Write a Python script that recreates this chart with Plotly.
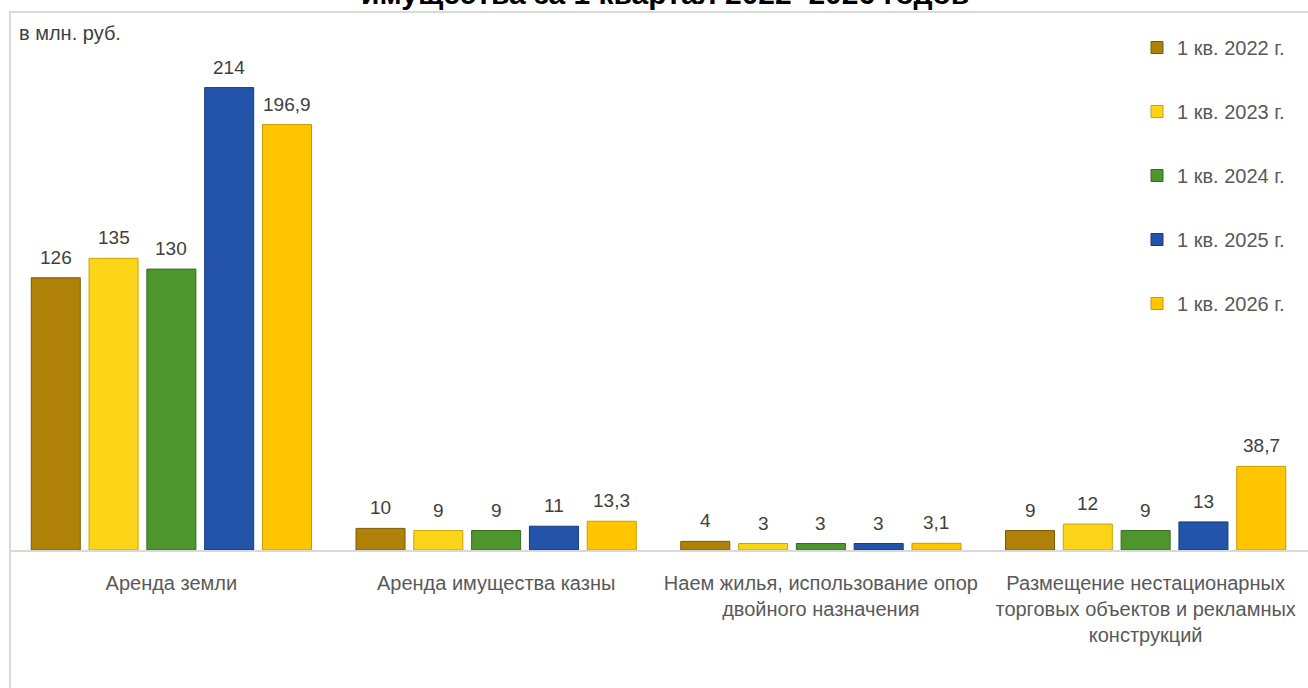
import plotly.graph_objects as go

categories = [
    "Аренда земли",
    "Аренда имущества казны",
    "Наем жилья, использование опор<br>двойного назначения",
    "Размещение нестационарных<br>торговых объектов и рекламных<br>конструкций",
]
series_names = ["1 кв. 2022 г.", "1 кв. 2023 г.", "1 кв. 2024 г.", "1 кв. 2025 г.", "1 кв. 2026 г."]
v2022 = [126, 10, 4, 9]
v2023 = [135, 9, 3, 12]
v2024 = [130, 9, 3, 9]
v2025 = [214, 11, 3, 13]
v2026 = [196.9, 13.3, 3.1, 38.7]
series_values = [v2022, v2023, v2024, v2025, v2026]

colors = ["#b08108", "#fcd418", "#4f952e", "#2453aa", "#ffc600"]
edge = ["#7a5a05", "#c9a40c", "#366b1f", "#173b7e", "#c99a00"]

FONT = "Liberation Sans, Arial, sans-serif"
W, H = 1308, 688
ML, MR, MT, MB = 9, 0, 12, 138
BARGAP, GROUPGAP = 0.11, 0.152


def fmt(v):
    s = ("%g" % v)
    return s.replace(".", ",")


fig = go.Figure()
xs = list(range(len(categories)))
for j, (name, vals) in enumerate(zip(series_names, series_values)):
    fig.add_trace(go.Bar(
        x=xs, y=vals, name=name, legendgroup=name,
        marker=dict(color=colors[j], line=dict(color=edge[j], width=1)),
        hoverinfo="y+name",
    ))

n = len(series_names)
slot = (1 - BARGAP) / n
annotations = []
for j, vals in enumerate(series_values):
    off = -(1 - BARGAP) / 2 + slot * (j + 0.5)
    for i, v in enumerate(vals):
        annotations.append(dict(
            x=i + off, y=v, xref="x", yref="y", text=fmt(v), showarrow=False,
            yanchor="bottom", yshift=8,
            font=dict(family=FONT, size=19, color="#404040"),
        ))

pw = W - ML - MR
ph = H - MT - MB

annotations.append(dict(
    x=(665 - ML) / pw, y=1.0, xref="paper", yref="paper", yanchor="bottom", yshift=0,
    text="<b>имущества за 1 квартал 2022–2026 годов</b>", showarrow=False,
    font=dict(family=FONT, size=30, color="#000000"),
))
annotations.append(dict(
    x=(17 - ML) / pw, y=1 - (33 - MT) / ph, xref="paper", yref="paper",
    xanchor="left", yanchor="middle", text="в млн. руб.", showarrow=False,
    font=dict(family=FONT, size=20, color="#404040"),
))

shapes = [dict(
    type="rect", xref="paper", yref="paper",
    x0=(10 - ML) / pw, x1=(1330 - ML) / pw,
    y0=-(MB + 20) / ph, y1=1.0,
    line=dict(color="#d9d9d9", width=2), fillcolor="rgba(0,0,0,0)", layer="below",
)]

fig.update_layout(
    width=W, height=H,
    margin=dict(l=ML, r=MR, t=MT, b=MB),
    paper_bgcolor="white", plot_bgcolor="white",
    barmode="group", bargap=BARGAP, bargroupgap=GROUPGAP,
    font=dict(family=FONT, size=20, color="#595959"),
    xaxis=dict(
        tickmode="array", tickvals=xs, ticktext=categories,
        range=[-0.5, len(categories) - 0.5],
        showline=True, linecolor="#d9d9d9", linewidth=2,
        ticks="outside", ticklen=14, tickcolor="rgba(0,0,0,0)",
        tickfont=dict(family=FONT, size=20, color="#595959"),
        showgrid=False, zeroline=False,
    ),
    yaxis=dict(range=[0, 249], visible=False, showgrid=False, zeroline=False),
    legend=dict(
        x=(1137 - ML) / pw, xanchor="left", y=1 - (28 - MT) / ph, yanchor="top",
        font=dict(family=FONT, size=20, color="#595959"),
        tracegroupgap=35, bgcolor="rgba(0,0,0,0)", itemwidth=30,
    ),
    showlegend=True,
    annotations=annotations,
    shapes=shapes,
)

fig.write_html("out.html")
